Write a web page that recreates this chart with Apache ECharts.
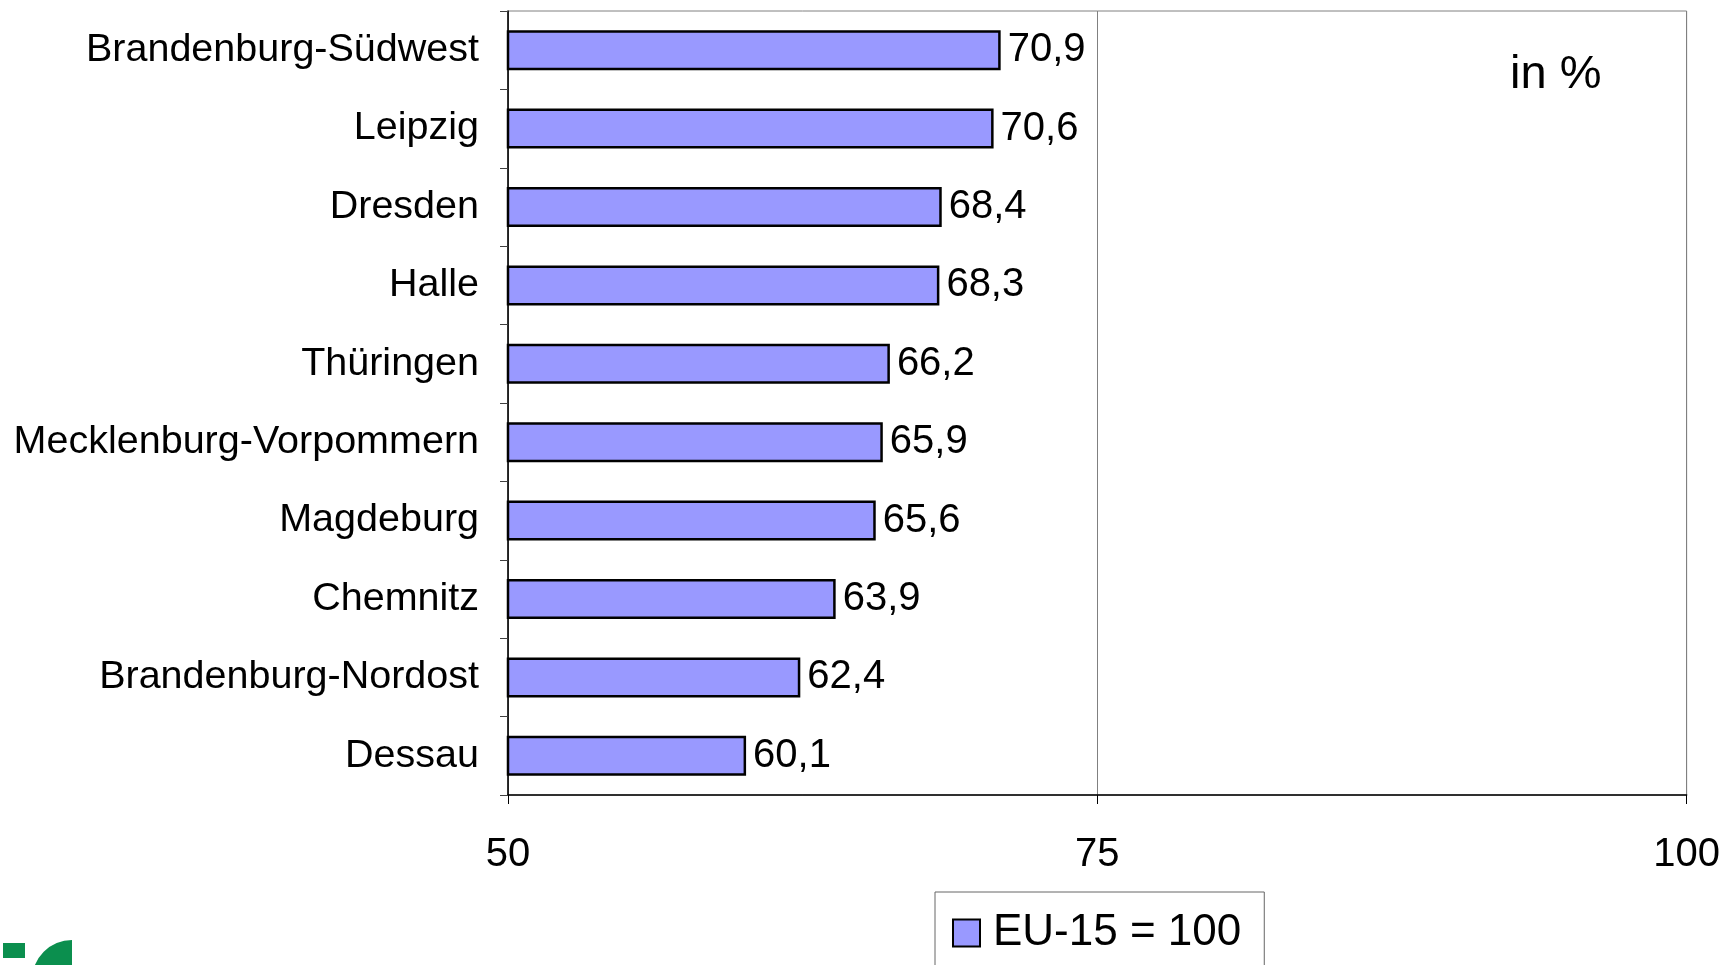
<!DOCTYPE html>
<html>
<head>
<meta charset="utf-8">
<script src="https://cdn.jsdelivr.net/npm/echarts@6/dist/echarts.min.js"></script>
<style>
  html, body { margin: 0; padding: 0; background: #fff; }
  #chart { width: 1723px; height: 965px; }
</style>
</head>
<body>
<div id="chart"></div>
<script>
// Regionen und Werte (EU-15 = 100)
const regions = [
  'Brandenburg-Südwest',
  'Leipzig',
  'Dresden',
  'Halle',
  'Thüringen',
  'Mecklenburg-Vorpommern',
  'Magdeburg',
  'Chemnitz',
  'Brandenburg-Nordost',
  'Dessau'
]
const values = [70.9, 70.6, 68.4, 68.3, 66.2, 65.9, 65.6, 63.9, 62.4, 60.1]
const seriesName = 'EU-15 = 100'

const font = '"Liberation Sans", Arial, sans-serif'
const chart = echarts.init(document.getElementById('chart'))

const option = {
  animation: false,
  backgroundColor: '#ffffff',
  textStyle: { fontFamily: font },
  title: {
    text: 'in %',
    left: 1510,
    top: 52,
    padding: 0,
    textStyle: { fontFamily: font, fontSize: 47, fontWeight: 'normal', color: '#000' }
  },
  legend: {
    data: [seriesName],
    left: 935,
    top: 892,
    orient: 'horizontal',
    padding: [19, 23, 13, 17],
    borderColor: '#666',
    borderWidth: 1,
    itemWidth: 27,
    itemHeight: 27,
    icon: 'rect',
    textStyle: { fontFamily: font, fontSize: 44, color: '#000', padding: [0, 0, 0, 8] }
  },
  grid: {
    left: 508,
    right: 36,
    top: 11,
    bottom: 170,
    show: true,
    borderColor: '#808080',
    borderWidth: 1,
    containLabel: false
  },
  xAxis: {
    type: 'value',
    min: 50,
    max: 100,
    interval: 25,
    axisLine: { show: true, lineStyle: { color: '#000', width: 1.5 } },
    axisTick: { show: true, length: 9, lineStyle: { color: '#000' } },
    axisLabel: { fontFamily: font, fontSize: 40, color: '#000', margin: 40 },
    splitLine: { show: true, lineStyle: { color: '#808080', width: 1 } }
  },
  yAxis: {
    type: 'category',
    data: regions,
    inverse: true,
    axisLine: { show: true, lineStyle: { color: '#000', width: 1.5 } },
    axisTick: { show: true, length: 8, lineStyle: { color: '#404040' } },
    axisLabel: { fontFamily: font, fontSize: 39.5, color: '#000', margin: 29, lineHeight: 40, padding: [8, 0, 0, 0] }
  },
  series: [
    {
      name: seriesName,
      type: 'bar',
      data: values,
      barCategoryGap: '49%',
      itemStyle: { color: '#9999ff', borderColor: '#000', borderWidth: 2.5 },
      label: {
        show: true,
        position: 'right',
        distance: 7,
        lineHeight: 40,
        padding: [8, 0, 0, 0],
        fontFamily: font,
        fontSize: 40,
        color: '#000',
        formatter: p => p.value.toFixed(1).replace('.', ',')
      }
    }
  ],
  graphic: [
    // angeschnittenes Logo unten links
    { type: 'rect', shape: { x: 3, y: 943, width: 22, height: 15 }, style: { fill: '#0b8f4e' } },
    {
      type: 'sector',
      shape: { cx: 72, cy: 980, r: 40, r0: 14, startAngle: Math.PI, endAngle: Math.PI * 1.5, clockwise: true },
      style: { fill: '#0b8f4e' }
    }
  ]
}

chart.setOption(option)
window.addEventListener('resize', () => chart.resize())
</script>
</body>
</html>
